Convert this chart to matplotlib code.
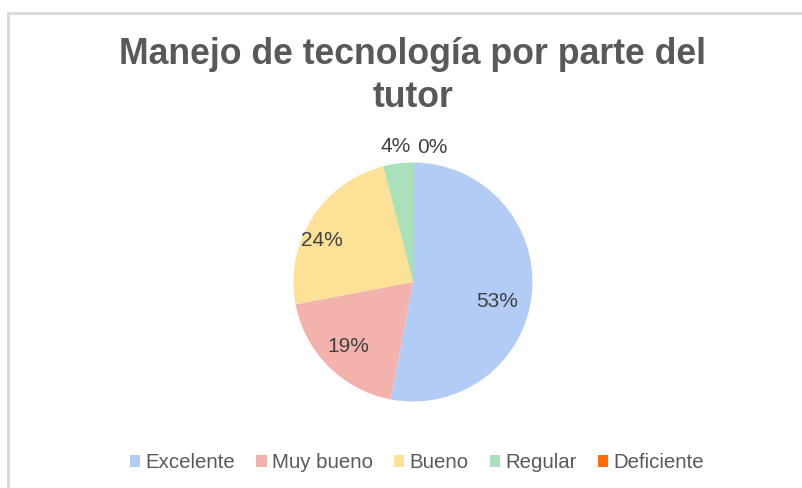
import matplotlib
matplotlib.use("Agg")
import matplotlib.pyplot as plt
import numpy as np
from matplotlib.lines import Line2D
from matplotlib.patches import Patch

categories = ["Excelente", "Muy bueno", "Bueno", "Regular", "Deficiente"]
values = [53, 19, 24, 4, 0]
labels = ["53%", "19%", "24%", "4%", "0%"]
colors = ["#B3CCF6", "#F4B2AD", "#FCE196", "#A9E1BA", "#FF6D0A"]
title = "Manejo de tecnología por parte del\ntutor"

W, H = 803, 488
fig = plt.figure(figsize=(W / 100, H / 100), dpi=100)
fig.patch.set_facecolor("white")

# frame lines (chart area border, partially visible)
fig.add_artist(Line2D([8 / W, 8 / W], [0, 1 - 13 / H], transform=fig.transFigure,
                      color="#D9D9D9", lw=2))
fig.add_artist(Line2D([8 / W, 1], [1 - 13 / H, 1 - 13 / H], transform=fig.transFigure,
                      color="#D9D9D9", lw=2))

fig.text(413 / W, 1 - 76 / H, title, ha="center", va="center", fontsize=25.7,
         fontweight="bold", color="#595959", family="Liberation Sans",
         linespacing=1.27)

cx, cy, r = 413, 282, 119.5
ax = fig.add_axes([(cx - r) / W, (H - cy - r) / H, 2 * r / W, 2 * r / H])
wedges, _ = ax.pie(values, colors=colors, startangle=90, counterclock=False,
                   radius=1, wedgeprops=dict(linewidth=0))
ax.set_xlim(-1, 1)
ax.set_ylim(-1, 1)
ax.set_aspect("equal")
ax.axis("off")

label_r = [0.72, 0.76, 0.84, 1.14, 1.14]
label_dang = [-8, 0, 8, 0, -8]
for w, lab, rr, da in zip(wedges, labels, label_r, label_dang):
    th = np.deg2rad((w.theta1 + w.theta2) / 2 + da)
    ax.text(rr * np.cos(th), rr * np.sin(th), lab, ha="center", va="center",
            fontsize=15, color="#404040", family="Liberation Sans", clip_on=False)

handles = [Patch(facecolor=c, edgecolor="none") for c in colors]
fig.legend(handles, categories, loc="center", bbox_to_anchor=(417 / W, 1 - 463 / H),
           ncol=5, frameon=False, prop=dict(family="Liberation Sans", size=14.7),
           labelcolor="#595959", handlelength=0.5, handleheight=0.5,
           handletextpad=0.25, columnspacing=1.05)

fig.savefig("out.png", dpi=100, facecolor="white")
